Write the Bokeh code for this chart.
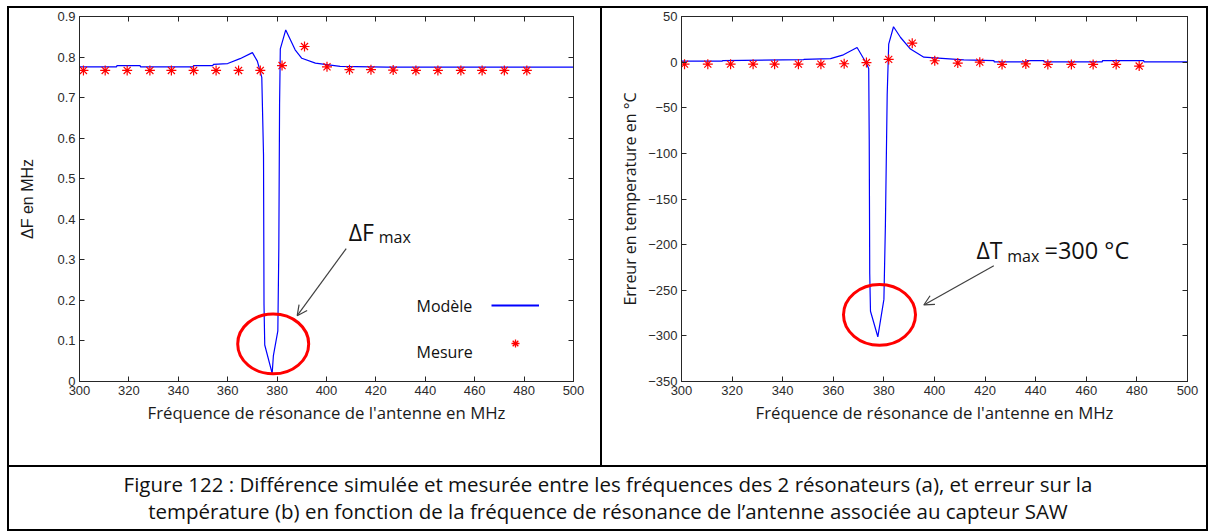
from bokeh.plotting import figure
from bokeh.layouts import column, row
from bokeh.models import (Range1d, FixedTicker, LinearAxis, NumeralTickFormatter, Label,
                          Arrow, OpenHead, Legend, LegendItem, Spacer)
from bokeh.embed import file_html
from bokeh.resources import INLINE

# ---------------- data ----------------
freq_model_a = [300, 315, 315.2, 324.5, 324.7, 346, 346.2, 354, 354.2, 360, 365, 370, 372,
                373.8, 374.5, 374.7, 375, 378, 378.5, 380.3, 380.7, 381, 381.3, 383.5,
                387.3, 390, 395.5, 405.5, 424.5, 500]
df_model = [0.776, 0.776, 0.779, 0.779, 0.776, 0.776, 0.779, 0.779, 0.782, 0.784, 0.796, 0.811, 0.79,
            0.75, 0.56, 0.19, 0.09, 0.02, 0.064, 0.125, 0.33, 0.683, 0.82, 0.867,
            0.818, 0.797, 0.785, 0.777, 0.775, 0.775]
freq_meas_a = [301.6, 310.4, 319.3, 328.5, 337.2, 346.2, 355.3, 364.4, 373.2, 382.0, 391.1,
               400.2, 409.3, 418.0, 427.0, 436.2, 445.1, 454.4, 463.0, 472.0, 481.1]
df_meas = [0.767, 0.767, 0.767, 0.767, 0.767, 0.767, 0.767, 0.767, 0.767, 0.779, 0.826,
           0.776, 0.769, 0.769, 0.768, 0.767, 0.767, 0.767, 0.767, 0.767, 0.767]

freq_model_b = [300, 316.1, 316.2, 348.3, 348.4, 358.9, 364, 369.4, 373.0, 374.0, 374.2, 374.4,
                374.7, 377.6, 380.0, 380.6, 381.3, 381.9, 383.8, 386.6, 390.5, 395.8,
                411.6, 423.5, 423.6, 436.6, 436.7, 443.2, 443.3, 466.3, 466.4, 482.7, 482.8, 500]
dt_model = [1.0, 1.0, 1.6, 2.7, 3.0, 3.8, 8.0, 16.0, -1.0, -7.0, -84.5, -231.7,
            -273.0, -301.0, -260.0, -178.0, -36.0, 19.7, 38.8, 27.0, 14.3, 5.4,
            2.5, 1.6, 0.2, 0.2, 1.6, 1.6, 0.2, 0.2, 1.6, 1.6, 0.2, 0.2]
freq_meas_b = [301.2, 310.4, 319.4, 328.3, 336.8, 346.2, 355.1, 364.3, 373.1, 381.9, 391.2,
               400.1, 409.2, 417.9, 426.7, 436.1, 444.8, 454.1, 462.7, 471.8, 480.9]
dt_meas = [-2.2, -2.2, -2.2, -2.2, -2.2, -2.2, -2.2, -1.8, -0.5, 3.0, 20.8,
           1.5, -1.0, 0.0, -2.5, -2.0, -2.5, -2.5, -2.5, -2.5, -4.3]

x_ticks = [300, 320, 340, 360, 380, 400, 420, 440, 460, 480, 500]
y_ticks_a = [0, 0.1, 0.2, 0.3, 0.4, 0.5, 0.6, 0.7, 0.8, 0.9]
y_ticks_b = [-350, -300, -250, -200, -150, -100, -50, 0, 50]

x_label = "Fréquence de résonance de l'antenne en MHz"
y_label_a = "ΔF en MHz"
y_label_b = "Erreur en temperature en °C"
legend_labels = ["Modèle", "Mesure"]
caption_lines = [
    "Figure 122 : Différence simulée et mesurée entre les fréquences des 2 résonateurs (a), et erreur sur la",
    "température (b) en fonction de la fréquence de résonance de l’antenne associée au capteur SAW",
]

# ---------------- styles ----------------
AX = "#262626"
BLUE = "#0000ff"
RED = "#ff0000"
TICK_FONT = "Liberation Sans"
CAL = "Open Sans"
LINE = 2
H_ROW = 457
H_CAP = 62
W_A = 591
W_B = 604
W_IN = 3 * LINE + W_A + W_B
NAN = float("nan")


def pix_a(px, py):
    # reference pixel -> data coordinates of plot (a)
    return 300 + (px - 79) * 200 / 494, (381 - py) * 0.9 / 366


def pix_b(px, py):
    return 300 + (px - 681) * 200 / 506, 50 - (py - 16) * 400 / 372


def style_axes(p, yticks, yfmt, xlab, ylab, yfont, yfs, ystand):
    xa = p.below[0]
    ya = p.left[0]
    xa.ticker = FixedTicker(ticks=x_ticks)
    ya.ticker = FixedTicker(ticks=yticks)
    if yfmt is not None:
        ya.formatter = yfmt
    for ax in (xa, ya):
        ax.major_tick_in = 5
        ax.major_tick_out = 0
        ax.minor_tick_line_color = None
        ax.axis_line_color = AX
        ax.major_tick_line_color = AX
        ax.major_label_text_font = TICK_FONT
        ax.major_label_text_font_size = "13px"
        ax.major_label_text_color = "#2b2b2b"
        ax.major_label_standoff = 4
        ax.axis_label_text_font_style = "normal"
        ax.axis_label_text_color = "#1a1a1a"
    xa.axis_label = xlab
    xa.axis_label_text_font = CAL
    xa.axis_label_text_font_size = "16.8px"
    xa.axis_label_standoff = 3
    ya.axis_label = ylab
    ya.axis_label_text_font = yfont
    ya.axis_label_text_font_size = yfs
    ya.axis_label_standoff = ystand
    for loc, ticks in (("above", x_ticks), ("right", yticks)):
        ax = LinearAxis(ticker=FixedTicker(ticks=ticks), major_label_text_font_size="1px",
                        major_label_text_color=None, major_label_standoff=0,
                        major_tick_in=5, major_tick_out=0,
                        minor_tick_line_color=None, axis_line_color=AX, major_tick_line_color=AX)
        p.add_layout(ax, loc)
    p.grid.visible = False
    p.outline_line_color = AX
    p.outline_line_width = 1


# ---------------- plot (a) ----------------
pa = figure(width=W_A, height=H_ROW, x_range=Range1d(300, 500), y_range=Range1d(0, 0.9),
            min_border_left=70, min_border_right=27, min_border_top=7, min_border_bottom=84,
            toolbar_location=None, output_backend="svg", title=None)
style_axes(pa, y_ticks_a, NumeralTickFormatter(format="0.[0]"), x_label, y_label_a,
           TICK_FONT, "16px", 18)

pa.line(freq_model_a, df_model, line_color=BLUE, line_width=1.2)
pa.scatter(freq_meas_a, df_meas, marker="asterisk", size=10, line_color=RED, line_width=1.2)

cx, cy = pix_a(272.7, 343.3)
pa.ellipse(x=[cx], y=[cy], width=[71 * 200 / 494], height=[60 * 0.9 / 366],
           fill_color=None, line_color=RED, line_width=3)
x0, y0 = pix_a(345.7, 247.7)
x1, y1 = pix_a(296.7, 315)
pa.add_layout(Arrow(x_start=x0, y_start=y0, x_end=x1, y_end=y1, line_color="#404040", line_width=1.2,
                    end=OpenHead(size=10, line_color="#404040", line_width=1.2)))
tx, ty = pix_a(348.3, 230.7)
pa.add_layout(Label(x=tx, y=ty, text="ΔF", text_font=CAL, text_font_size="23px",
                    text_baseline="alphabetic", text_color="#111111"))
tx, ty = pix_a(378.3, 236)
pa.add_layout(Label(x=tx, y=ty, text="max", text_font=CAL, text_font_size="16px",
                    text_baseline="alphabetic", text_color="#111111"))

# legend: text on the left, swatch on the right (swatch renderers draw nothing on the plot)
for lab, py in zip(legend_labels, [305, 351.7]):
    tx, ty = pix_a(416, py)
    pa.add_layout(Label(x=tx, y=ty, text=lab, text_font=CAL, text_font_size="16px",
                        text_baseline="middle", text_color="#111111"))
sw_line = pa.line(x=[NAN, NAN], y=[NAN, NAN], line_color=BLUE, line_width=2)
sw_star = pa.scatter(x=[NAN], y=[NAN], marker="asterisk", size=9, line_color=RED, line_width=1.3)
leg = Legend(items=[LegendItem(label=" ", renderers=[sw_line], index=0),
                    LegendItem(label=" ", renderers=[sw_star], index=0)],
             location=(491 - 79, 381 - 353), glyph_width=48, glyph_height=20, spacing=18,
             padding=0, margin=0, label_standoff=0, border_line_color=None,
             background_fill_alpha=0, label_text_font_size="1px")
pa.add_layout(leg)
tx, ty = pix_a(305, 443)
pa.add_layout(Label(x=tx, y=ty, text="(a)", text_font=CAL, text_font_size="20px",
                    text_align="center", text_baseline="middle", text_color="#111111"))

# ---------------- plot (b) ----------------
pb = figure(width=W_B, height=H_ROW, x_range=Range1d(300, 500), y_range=Range1d(-350, 50),
            min_border_left=79, min_border_right=19, min_border_top=8, min_border_bottom=77,
            toolbar_location=None, output_backend="svg", title=None)
style_axes(pb, y_ticks_b, None, x_label, y_label_b, CAL, "16px", 4)

pb.line(freq_model_b, dt_model, line_color=BLUE, line_width=1.2)
pb.scatter(freq_meas_b, dt_meas, marker="asterisk", size=10, line_color=RED, line_width=1.2)
cx, cy = pix_b(879, 320)
pb.ellipse(x=[cx], y=[cy], width=[72 * 200 / 506], height=[62 * 400 / 372],
           fill_color=None, line_color=RED, line_width=3)
x0, y0 = pix_b(993.3, 270)
x1, y1 = pix_b(923.3, 310)
pb.add_layout(Arrow(x_start=x0, y_start=y0, x_end=x1, y_end=y1, line_color="#404040", line_width=1.2,
                    end=OpenHead(size=10, line_color="#404040", line_width=1.2)))
for txt, px, py, fs in [("ΔT", 976, 254, "23px"), ("max", 1006.7, 260, "16px"),
                        ("=300 °C", 1044, 254, "23.5px")]:
    tx, ty = pix_b(px, py)
    pb.add_layout(Label(x=tx, y=ty, text=txt, text_font=CAL, text_font_size=fs,
                        text_baseline="alphabetic", text_color="#111111"))
tx, ty = pix_b(910, 451)
pb.add_layout(Label(x=tx, y=ty, text="(b)", text_font=CAL, text_font_size="20px",
                    text_align="center", text_baseline="middle", text_color="#111111"))

# ---------------- caption ----------------
W_CAP = W_IN - 2 * LINE
cap = figure(width=W_CAP, height=H_CAP, x_range=Range1d(0, W_CAP), y_range=Range1d(0, H_CAP),
             min_border=0, toolbar_location=None, output_backend="svg", title=None,
             x_axis_location=None, y_axis_location=None)
cap.grid.visible = False
cap.outline_line_color = None
for txt, yy in zip(caption_lines, [H_CAP - 16, H_CAP - 43]):
    cap.add_layout(Label(x=W_CAP / 2, y=yy, text=txt, text_font=CAL, text_font_size="20.5px",
                         text_align="center", text_baseline="middle", text_color="#111111"))


def bar(w, h):
    return Spacer(width=w, height=h, styles={"background-color": "black"})


table = column(
    bar(W_IN, LINE),
    row(bar(LINE, H_ROW), pa, bar(LINE, H_ROW), pb, bar(LINE, H_ROW)),
    bar(W_IN, LINE),
    row(bar(LINE, H_CAP), cap, bar(LINE, H_CAP)),
    bar(W_IN, LINE),
)
H_IN = 3 * LINE + H_ROW + H_CAP
layout = column(Spacer(width=W_IN + 7, height=6), row(Spacer(width=7, height=H_IN), table))

open("out.html", "w").write(file_html(layout, INLINE))
